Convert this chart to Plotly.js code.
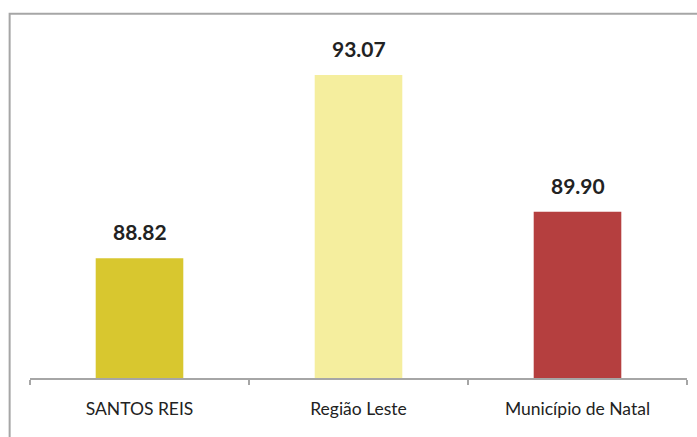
<!DOCTYPE html>
<html>
<head>
<meta charset="utf-8">
<script src="https://cdn.plot.ly/plotly-3.0.1.min.js"></script>
<style>
html,body{margin:0;padding:0;background:#fff;}
#chart{width:697px;height:437px;}
</style>
</head>
<body>
<div id="chart"></div>
<script>
const categories = ["SANTOS REIS", "Região Leste", "Município de Natal"];
const values = [88.82, 93.07, 89.90];
const valueLabels = ["88.82", "93.07", "89.90"];
const barColors = ["#D8C72F", "#F5EE9E", "#B53F3F"];

const trace = {
  type: "bar",
  x: categories,
  y: values,
  marker: {color: barColors, line: {width: 0}},
  width: 0.4,
  hoverinfo: "none",
  showlegend: false,
  cliponaxis: true
};

const annotations = categories.map((c, i) => ({
  x: c, y: values[i], xref: "x", yref: "y",
  text: "<b>" + valueLabels[i] + "</b>",
  showarrow: false, yanchor: "bottom", yshift: 12,
  font: {family: "Lato, 'Open Sans', sans-serif", size: 21, color: "#222222"}
}));

const layout = {
  width: 697, height: 437,
  margin: {l: 30, r: 10, t: 35, b: 59, pad: 0},
  paper_bgcolor: "#ffffff", plot_bgcolor: "#ffffff",
  bargap: 0.6,
  xaxis: {
    type: "category",
    range: [-0.5, 2.5],
    showline: true, linecolor: "#a6a6a6", linewidth: 2,
    ticks: "outside", tickson: "boundaries", ticklen: 5, tickwidth: 2, tickcolor: "#a6a6a6",
    showgrid: false, zeroline: false,
    tickfont: {family: "Lato, 'Open Sans', sans-serif", size: 17.5, color: "#222222"},
    ticklabelstandoff: 14,
    fixedrange: true
  },
  yaxis: {visible: false, range: [86.04, 94], showgrid: false, zeroline: false, fixedrange: true},
  annotations: annotations,
  shapes: [{
    type: "rect", xref: "paper", yref: "paper",
    x0: -0.031, x1: 1.2, y0: -0.5, y1: 1.062,
    line: {color: "#a6a6a6", width: 2}, fillcolor: "rgba(0,0,0,0)", layer: "below"
  }]
};

Plotly.newPlot("chart", [trace], layout, {displayModeBar: false, staticPlot: true});
</script>
</body>
</html>
